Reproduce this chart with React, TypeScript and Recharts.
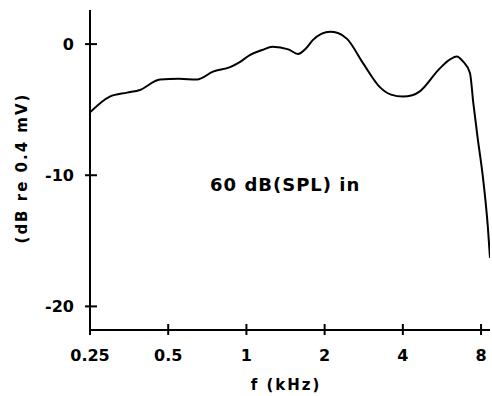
import { LineChart, Line, XAxis, YAxis, ReferenceDot } from "recharts";

// frequency response
const freqs = [
  0.25, 0.298, 0.347, 0.389, 0.465, 0.55, 0.645, 0.744, 0.865, 0.946, 1.03,
  1.15, 1.26, 1.45, 1.58, 1.7, 1.8, 1.95, 2.1, 2.25, 2.44, 2.81, 3.27, 3.6,
  4.0, 4.35, 4.65, 5.55, 6.1, 6.45, 6.8, 7.25, 7.47, 7.78, 8.1, 8.5, 8.66,
];
const levels = [
  -5.2, -4.0, -3.7, -3.5, -2.7, -2.65, -2.7, -2.1, -1.75, -1.35, -0.84,
  -0.45, -0.2, -0.4, -0.75, -0.3, 0.3, 0.8, 0.95, 0.85, 0.4, -1.45, -3.3,
  -3.85, -4.0, -3.9, -3.6, -1.85, -1.15, -0.95, -1.3, -2.2, -4.5, -7.3, -9.85,
  -14.0, -16.3,
];
const xTicks = [0.25, 0.5, 1, 2, 4, 8];
const yTicks = [0, -10, -20];

const data = freqs.map((f, i) => ({ f, db: levels[i] }));

const font = { fontFamily: "DejaVu Sans", fontWeight: "bold", fontSize: 15 };

function XTick(props: any) {
  const { x, y, payload } = props;
  return (
    <g>
      <line x1={x} x2={x} y1={y - 6} y2={y + 5} stroke="#000" strokeWidth={2} />
      <text x={x} y={y + 31} textAnchor="middle" fill="#000" style={{ ...font, fontSize: 16 }}>
        {payload.value}
      </text>
    </g>
  );
}

function YTick(props: any) {
  const { x, y, payload } = props;
  return (
    <g>
      <line x1={x - 5} x2={x + 7} y1={y} y2={y} stroke="#000" strokeWidth={2} />
      <text x={x - 16} y={y + 6} textAnchor="end" fill="#000" style={{ ...font, fontSize: 16 }}>
        {String(payload.value)}
      </text>
    </g>
  );
}

export default function App() {
  return (
    <div style={{ position: "absolute", left: 0, top: 0, background: "#fff" }}>
      <LineChart
        width={492}
        height={396}
        data={data}
        margin={{ top: 10, right: 2, bottom: 0, left: 0 }}
      >
        <XAxis
          dataKey="f"
          type="number"
          scale="log"
          domain={[0.25, 8.66]}
          allowDataOverflow
          ticks={xTicks}
          tickSize={0}
          tickMargin={0}
          height={66}
          tick={<XTick />}
          axisLine={{ stroke: "#000", strokeWidth: 2 }}
          label={{
            content: () => (
              <text x={286} y={390} textAnchor="middle" fill="#000" style={{ ...font, letterSpacing: 2 }}>
                f (kHz)
              </text>
            ),
          }}
        />
        <YAxis
          type="number"
          domain={[-21.8, 2.6]}
          allowDataOverflow
          ticks={yTicks}
          tickSize={0}
          tickMargin={0}
          width={90}
          tick={<YTick />}
          axisLine={{ stroke: "#000", strokeWidth: 2 }}
          label={{
            content: () => (
              <text
                x={22}
                y={168}
                textAnchor="middle"
                dominantBaseline="central"
                transform="rotate(-90 22 168)"
                fill="#000"
                style={{ ...font, letterSpacing: 2 }}
              >
                (dB re 0.4 mV)
              </text>
            ),
          }}
        />
        <ReferenceDot
          x={1.41}
          y={-10.7}
          r={0}
          fill="none"
          stroke="none"
          label={{
            content: (p: any) => (
              <text
                x={p.viewBox.x}
                y={p.viewBox.y}
                textAnchor="middle"
                dominantBaseline="central"
                fill="#000"
                style={{ ...font, fontSize: 18, letterSpacing: 1 }}
              >
                60 dB(SPL) in
              </text>
            ),
          }}
        />
        <Line
          type="monotone"
          dataKey="db"
          stroke="#000"
          strokeWidth={2}
          dot={false}
          isAnimationActive={false}
        />
      </LineChart>
    </div>
  );
}
